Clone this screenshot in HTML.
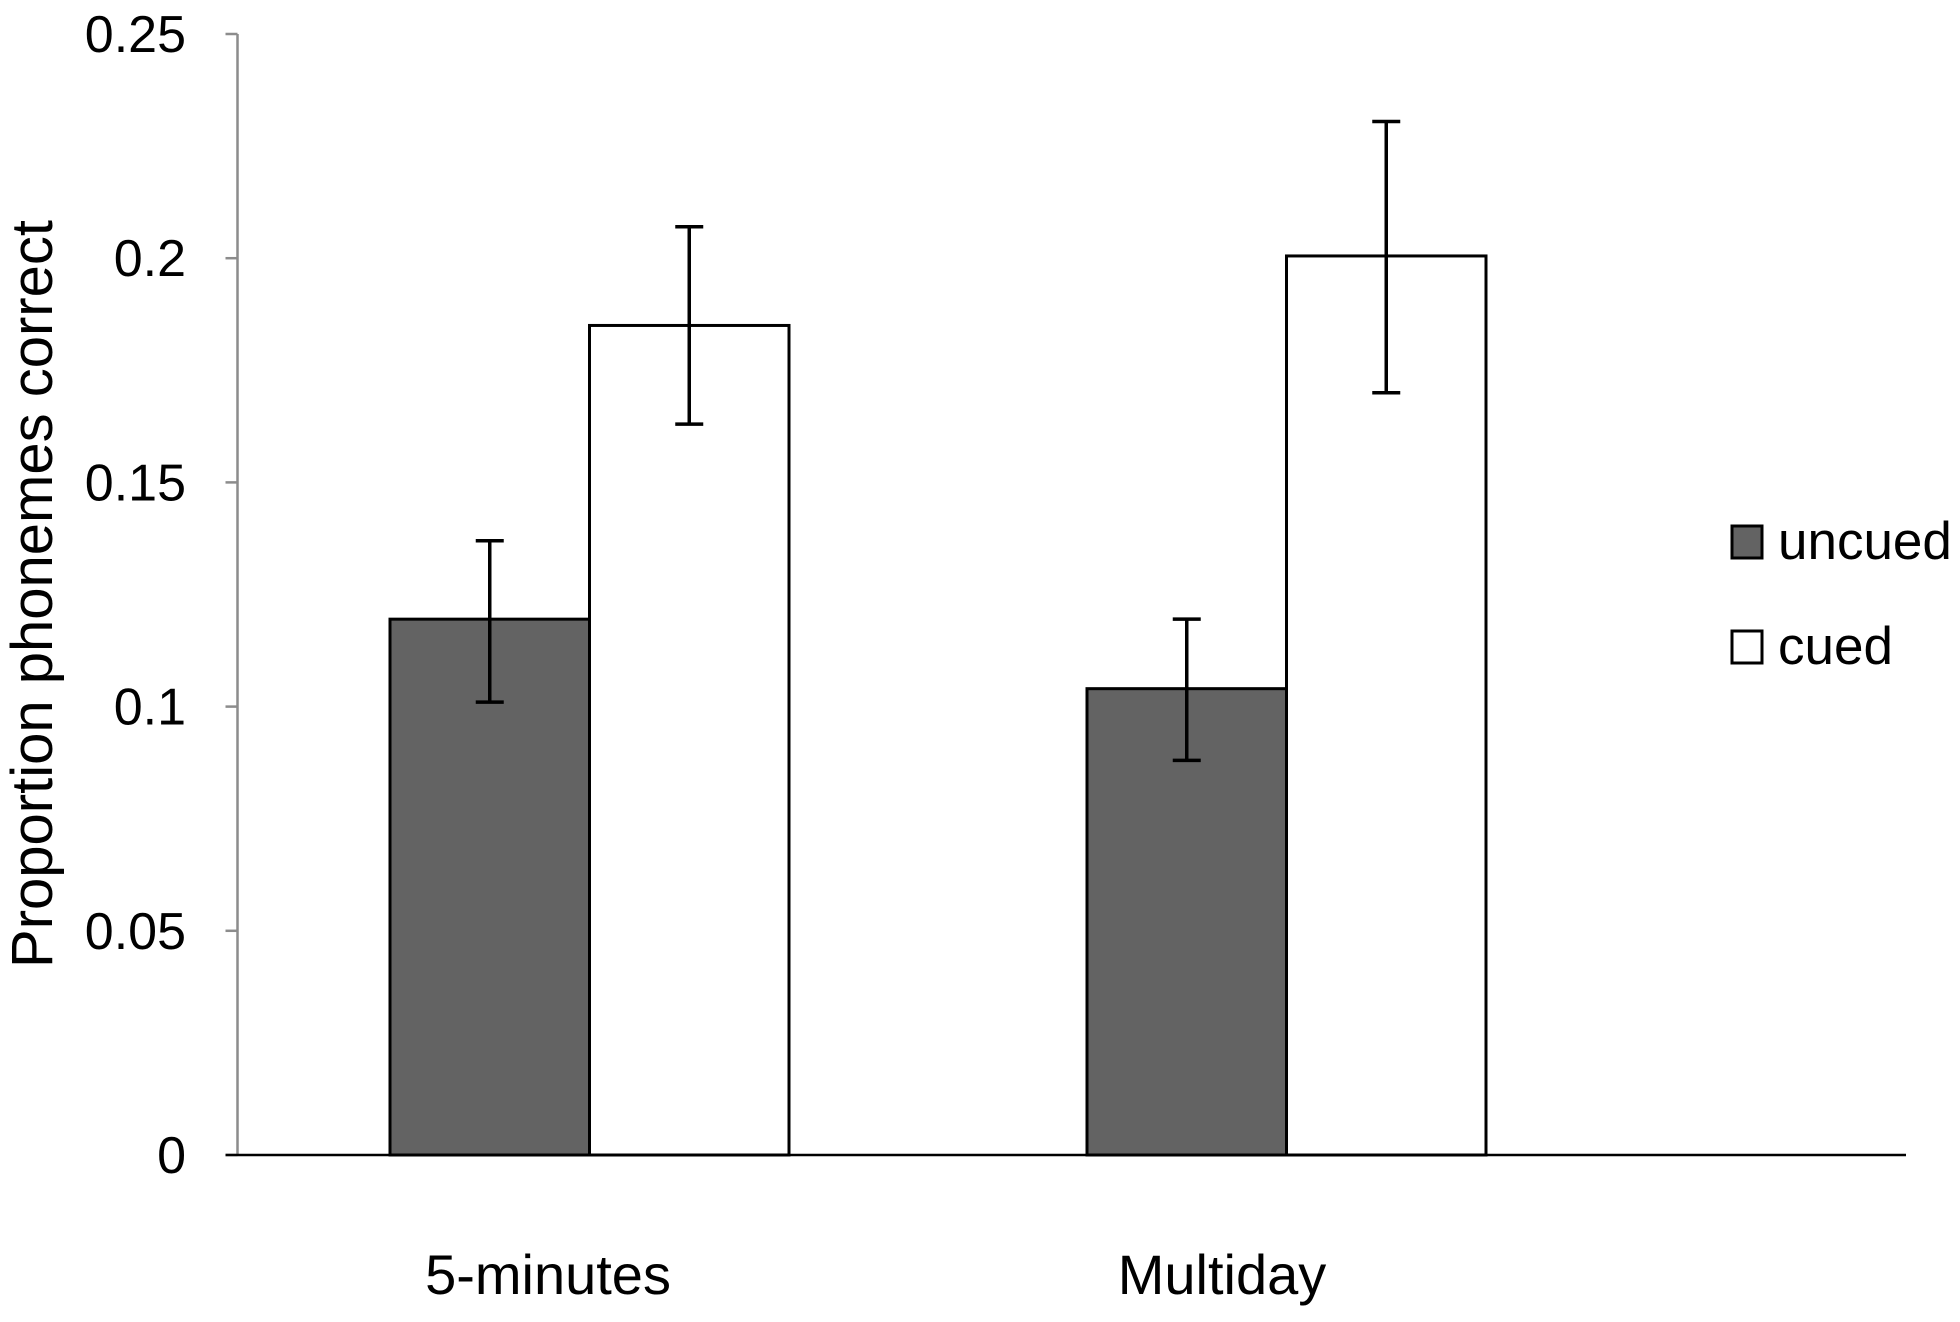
<!DOCTYPE html>
<html><head><meta charset="utf-8"><style>
html,body{margin:0;padding:0;background:#fff;}
svg{display:block;font-family:"Liberation Sans",sans-serif;}
</style></head><body>
<svg id="chart" width="1960" height="1322" viewBox="0 0 1960 1322">
</svg>
<script>
const categories = ["5-minutes", "Multiday"];
const seriesNames = ["uncued", "cued"];
const uncuedValues = [0.1195, 0.104];
const cuedValues = [0.185, 0.2005];
const uncuedErrLow = [0.101, 0.088];
const uncuedErrHigh = [0.137, 0.1195];
const cuedErrLow = [0.163, 0.170];
const cuedErrHigh = [0.207, 0.2305];
const yTicks = [0, 0.05, 0.1, 0.15, 0.2, 0.25];
const yTickLabels = ["0", "0.05", "0.1", "0.15", "0.2", "0.25"];

const NS = "http://www.w3.org/2000/svg";
const svg = document.getElementById("chart");
const y0 = 1155, yTop = 34, vMax = 0.25;
function yScale(v){ return y0 - (v / vMax) * (y0 - yTop); }
const axisX = 237.5, plotRight = 1906;
const groupStart = [390, 1087];
const labelX = [548, 1222];
const barW = 199.5;
function xBar(ci, si){ return groupStart[ci] + si * barW; }

function mk(tag, attrs, parent){
  const e = document.createElementNS(NS, tag);
  for (const k in attrs) e.setAttribute(k, attrs[k]);
  (parent || svg).appendChild(e);
  return e;
}

let ya = mk("line", {x1:axisX, y1:yTop, x2:axisX, y2:y0, stroke:"#8c8c8c", "stroke-width":2.5});


yTicks.forEach((t, i) => {
  const y = yScale(t);
  const tk = mk("line", {x1:axisX-12, y1:y, x2:axisX, y2:y, stroke:"#8c8c8c", "stroke-width":2.5});
  
  
  const tx = mk("text", {x:186, y:y+18, "text-anchor":"end", "font-size":52, fill:"#000"});
  tx.textContent = yTickLabels[i];
  
  
});

const series = [
  {vals:uncuedValues, lo:uncuedErrLow, hi:uncuedErrHigh, fill:"#636363"},
  {vals:cuedValues, lo:cuedErrLow, hi:cuedErrHigh, fill:"#ffffff"}
];
categories.forEach((c, ci) => {
  series.forEach((s, si) => {
    const x = xBar(ci, si), y = yScale(s.vals[ci]);
    const r = mk("rect", {x:x, y:y, width:barW, height:y0-y, fill:s.fill, stroke:"#000", "stroke-width":3});
    
    
    const cx = x + barW/2, yl = yScale(s.lo[ci]), yh = yScale(s.hi[ci]);
    const g = mk("g", {stroke:"#000", "stroke-width":3.5});
    
    
    mk("line", {x1:cx, y1:yl, x2:cx, y2:yh}, g);
    mk("line", {x1:cx-14, y1:yl, x2:cx+14, y2:yl}, g);
    mk("line", {x1:cx-14, y1:yh, x2:cx+14, y2:yh}, g);
  });
  const lbl = mk("text", {x:labelX[ci], y:1294, "text-anchor":"middle", "font-size":56, fill:"#000"});
  lbl.textContent = c;
  
  
});

let xa = mk("line", {x1:axisX-12, y1:y0, x2:plotRight, y2:y0, stroke:"#000", "stroke-width":2.5});



let yt = mk("text", {x:0, y:0, transform:"translate(52,594) rotate(-90)", "text-anchor":"middle", "font-size":58, fill:"#000"});
yt.textContent = "Proportion phonemes correct";



const legFill = ["#636363", "#ffffff"];
const legY = [526, 631];
seriesNames.forEach((n, i) => {
  const g = mk("g", {});
  
  
  mk("rect", {x:1732, y:legY[i], width:30, height:32, fill:legFill[i], stroke:"#000", "stroke-width":3}, g);
  const t = mk("text", {x:1778, y:legY[i]+33, "font-size":53, fill:"#000"}, g);
  t.textContent = n;
});
</script>
</body></html>
